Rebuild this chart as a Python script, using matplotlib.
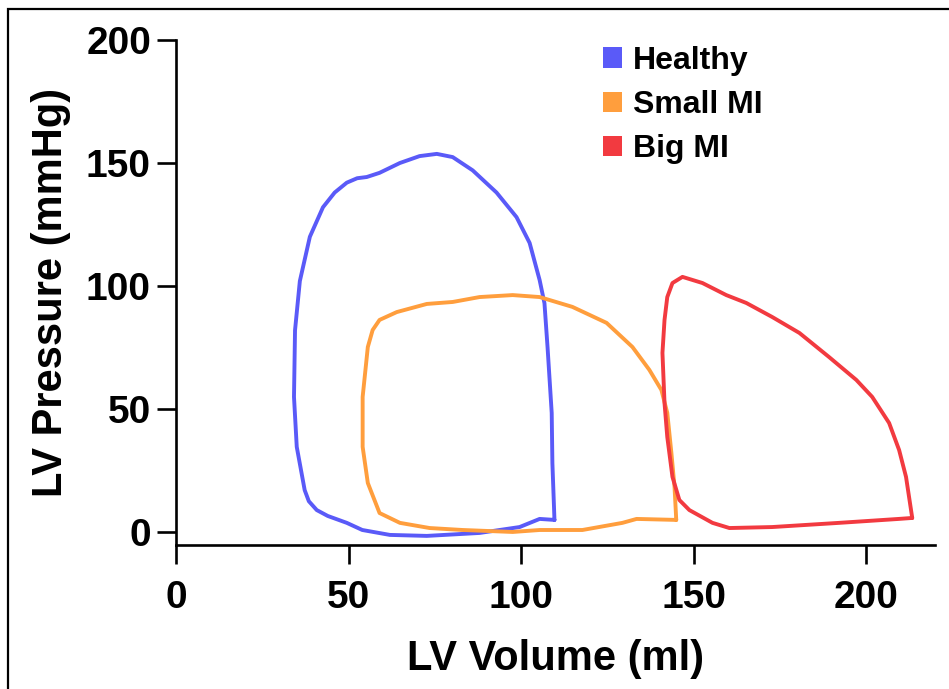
import matplotlib.pyplot as plt
from matplotlib.patches import Patch, Rectangle

plt.rcParams['font.family'] = ['Liberation Sans', 'DejaVu Sans']
plt.rcParams['font.weight'] = 'bold'

# Pressure-volume loops (volume in ml, pressure in mmHg)
healthy_vol = [109.7, 105.4, 99.6, 88.0, 72.7, 62.0, 54.0, 49.5, 44.0, 40.8, 38.5, 37.3, 35.0, 34.2, 34.5,
               35.9, 38.8, 42.6, 46.0, 49.5, 52.5, 55.3, 59.0, 64.9, 70.6, 75.6, 80.2, 86.0, 92.9,
               98.7, 102.5, 105.4, 106.8, 107.7, 108.9, 109.1, 109.7]
healthy_pres = [4.9, 5.3, 2.0, -0.4, -1.6, -1.2, 0.8, 3.7, 6.5, 8.9, 12.5, 17.0, 34.6, 54.9, 82.0,
                102.0, 120.0, 132.0, 138.0, 142.0, 143.8, 144.3, 146.0, 150.0, 152.8, 153.7, 152.4, 147.0, 138.0,
                128.0, 117.5, 102.4, 93.0, 75.0, 48.4, 28.0, 4.9]

small_vol = [145.0, 144.5, 143.6, 142.4, 140.7, 137.2, 132.3, 124.8, 114.9, 105.4, 97.6,
             88.0, 80.2, 72.7, 64.0, 59.0, 57.0, 55.6, 54.1, 54.1, 55.6, 59.0, 64.9,
             73.5, 83.1, 97.6, 105.4, 117.8, 129.4, 133.5, 145.0]
small_pres = [4.9, 18.3, 32.0, 48.4, 57.7, 65.9, 75.2, 85.0, 91.5, 95.5, 96.3,
              95.5, 93.5, 92.7, 89.4, 86.2, 82.1, 75.2, 54.9, 34.6, 19.9, 7.7, 3.7,
              1.6, 0.8, 0.0, 0.8, 0.8, 3.7, 5.3, 4.9]

big_vol = [213.4, 209.5, 192.2, 172.8, 160.4, 155.5, 148.8, 145.9, 143.9, 142.4, 141.6,
           141.0, 141.6, 142.4, 143.9, 146.8, 152.6, 159.5, 165.3, 172.8, 180.7, 189.3,
           197.2, 201.8, 206.7, 209.6, 211.6, 213.4]
big_pres = [5.7, 5.3, 3.7, 2.0, 1.6, 3.7, 8.9, 13.0, 22.4, 38.6, 52.4,
            72.8, 86.2, 95.5, 101.2, 103.7, 101.2, 96.3, 93.1, 87.4, 80.9, 71.1,
            61.8, 54.9, 44.3, 33.3, 22.4, 5.7]

labels = ['Healthy', 'Small MI', 'Big MI']
colors = ['#5A5AF8', '#FF9E3D', '#F23A40']

fig = plt.figure(figsize=(9.49, 6.89), dpi=100)
ax = fig.add_axes([176 / 949, 1 - 545 / 689, 759 / 949, 505 / 689])

for vol, pres, c in zip([healthy_vol, small_vol, big_vol],
                        [healthy_pres, small_pres, big_pres], colors):
    ax.plot(vol, pres, color=c, lw=2.8, solid_joinstyle='round', solid_capstyle='round')

ax.set_xlim(0, 220)
ax.set_ylim(-5.3, 200)
ax.set_xticks([0, 50, 100, 150, 200])
ax.set_yticks([0, 50, 100, 150, 200])
ax.spines['top'].set_visible(False)
ax.spines['right'].set_visible(False)
ax.spines['left'].set_bounds(-5.3, 200)
for s in ['left', 'bottom']:
    ax.spines[s].set_linewidth(1.9)
ax.tick_params(axis='both', length=14, width=1.9, labelsize=28)
ax.tick_params(axis='y', pad=4)
ax.tick_params(axis='x', pad=11)
for lab in ax.get_xticklabels() + ax.get_yticklabels():
    lab.set_fontweight('bold')

ax.set_xlabel('LV Volume (ml)', fontsize=30, fontweight='bold', labelpad=17)
ax.set_ylabel('LV Pressure (mmHg)', fontsize=30, fontweight='bold', labelpad=11)

handles = [Patch(facecolor=c, edgecolor='none') for c in colors]
ax.legend(handles, labels, loc='upper left', bbox_to_anchor=(0.546, 1.014), frameon=False,
          prop={'size': 23, 'weight': 'bold'}, handlelength=0.6, handleheight=0.6,
          handletextpad=0.32, labelspacing=0.45, borderaxespad=0)

# outer frame around the figure
fig.patches.append(Rectangle((8 / 949, -0.2), 1.1, 1.2 - 9 / 689, transform=fig.transFigure,
                             fill=False, edgecolor='black', lw=1.6))

fig.savefig('out.png', dpi=100)
